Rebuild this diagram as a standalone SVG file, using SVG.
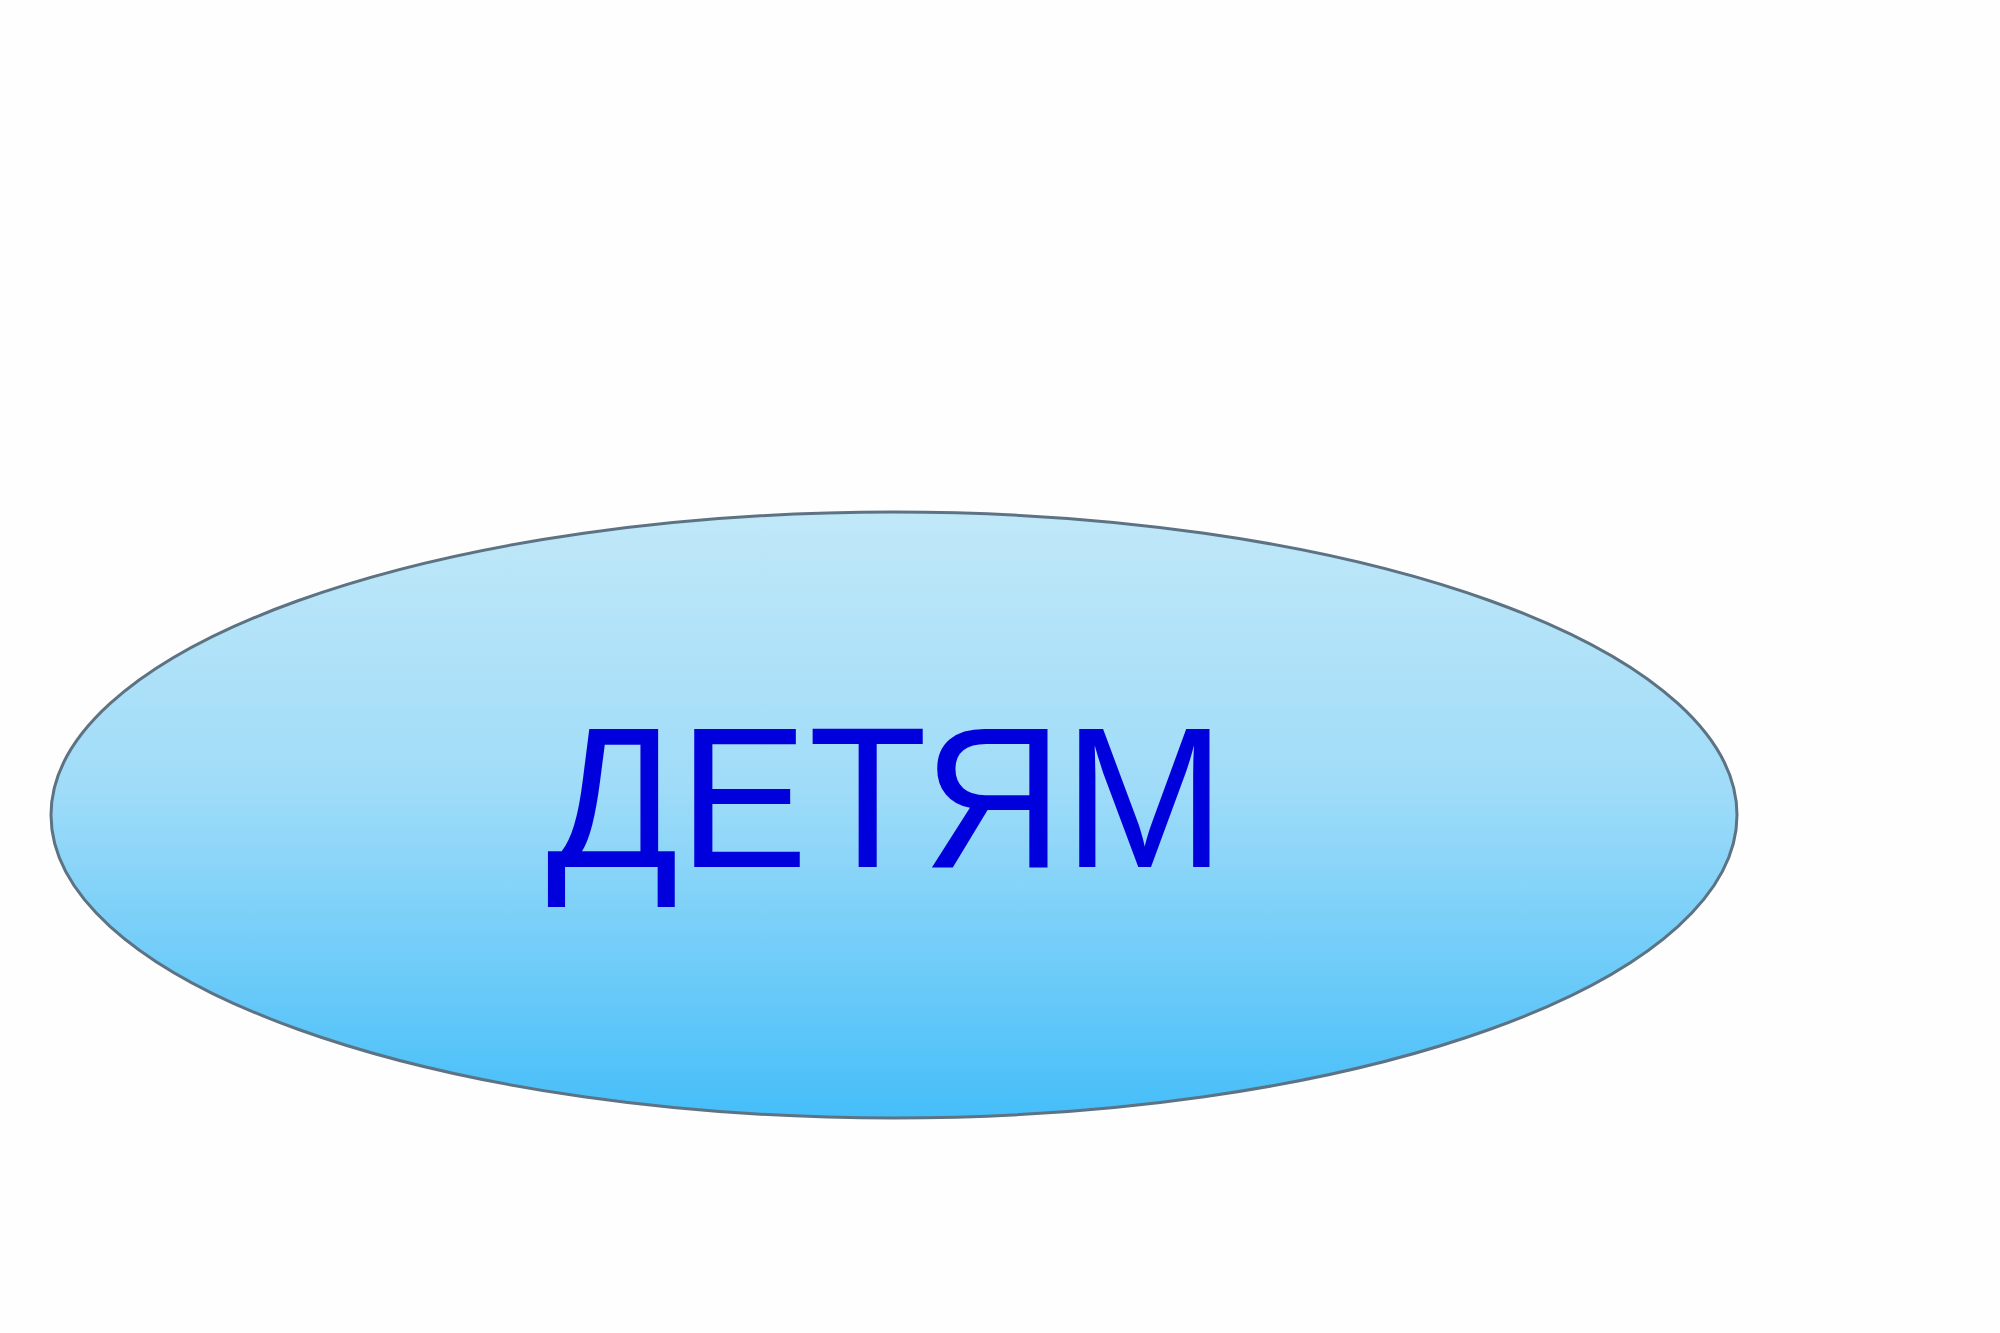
<svg xmlns="http://www.w3.org/2000/svg" width="2000" height="1333" viewBox="0 0 2000 1333">
  <defs>
    <linearGradient id="fill" x1="0" y1="0" x2="0" y2="1">
      <stop offset="0" stop-color="#c0e8f8"/>
      <stop offset="0.45" stop-color="#a0dcf8"/>
      <stop offset="1" stop-color="#45bef9"/>
    </linearGradient>
  </defs>
  <style>
    .shape { fill: url(#fill); stroke: #5d7383; stroke-width: 3; }
    .label { font-family: "Liberation Sans", Arial, sans-serif; font-size: 200px; fill: #0000dc; }
  </style>
  <rect width="2000" height="1333" fill="#fefefe"/>
  <g id="node-detyam">
    <ellipse class="shape" cx="894" cy="815" rx="843" ry="303"/>
    <text class="label" x="886" y="867" text-anchor="middle" textLength="679" lengthAdjust="spacingAndGlyphs">ДЕТЯМ</text>
  </g>
  <g id="connectors"/>
</svg>
